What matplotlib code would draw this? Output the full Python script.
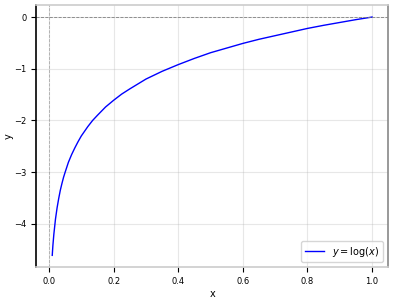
import matplotlib
matplotlib.use("Agg")
import matplotlib.pyplot as plt

x_vals = [0.01, 0.012, 0.015, 0.02, 0.025, 0.03, 0.035, 0.04, 0.045, 0.05, 0.06, 0.07, 0.08, 0.09, 0.1,
          0.11, 0.12, 0.135, 0.15, 0.175, 0.2, 0.225, 0.25, 0.3, 0.35, 0.4, 0.45, 0.5, 0.55, 0.6,
          0.65, 0.7, 0.75, 0.8, 0.85, 0.9, 0.95, 1.0]
y_vals = [-4.61, -4.42, -4.20, -3.91, -3.69, -3.51, -3.35, -3.22, -3.10, -3.00, -2.81, -2.66, -2.53, -2.41, -2.30,
          -2.21, -2.12, -2.00, -1.90, -1.74, -1.61, -1.49, -1.39, -1.20, -1.05, -0.92, -0.80, -0.69, -0.60, -0.51,
          -0.43, -0.36, -0.29, -0.22, -0.16, -0.105, -0.05, 0.0]
series_label = r"$y = \log(x)$"

fig, ax = plt.subplots(figsize=(3.94, 3.02), dpi=100)
fig.subplots_adjust(left=0.092, right=0.985, top=0.983, bottom=0.115)

ax.plot(x_vals, y_vals, color="blue", linewidth=1.0, label=series_label)
ax.axhline(0, color="gray", linestyle="--", linewidth=0.6)
ax.axvline(0, color="gray", linestyle="--", linewidth=0.6, alpha=0.6)
ax.grid(True, alpha=0.3)
ax.set_xlabel("x", fontsize=7, labelpad=2)
ax.set_ylabel("y", fontsize=7, labelpad=0)
ax.tick_params(labelsize=6)
ax.legend(loc="lower right", fontsize=7)

ax.spines["left"].set_color("black")
ax.spines["left"].set_linewidth(1.2)
ax.spines["right"].set_color("#888888")
ax.spines["right"].set_linewidth(1.2)
ax.spines["top"].set_color("#cccccc")
ax.spines["bottom"].set_color("#cccccc")
ax.spines["top"].set_linewidth(1.2)
ax.spines["bottom"].set_linewidth(1.2)

fig.savefig("out.png", dpi=100)
